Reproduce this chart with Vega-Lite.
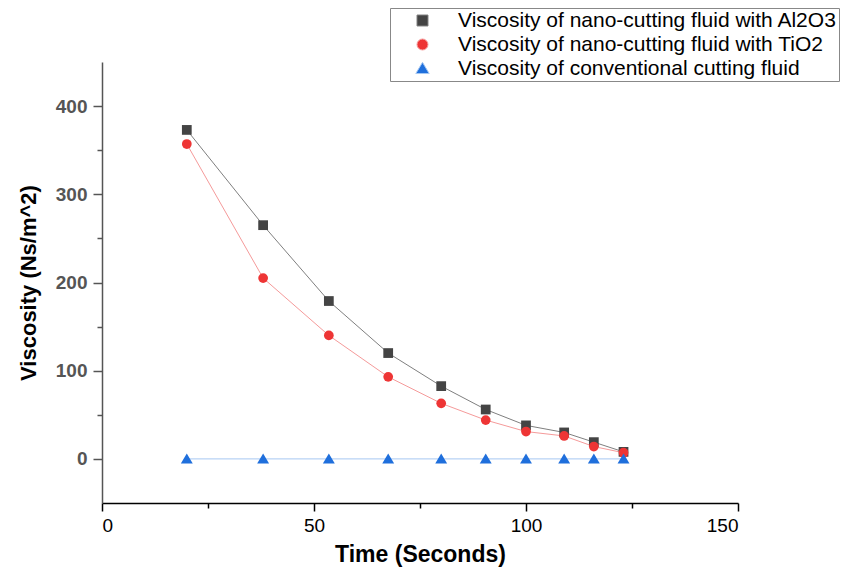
{
  "$schema": "https://vega.github.io/schema/vega-lite/v6.json",
  "width": 636,
  "height": 441,
  "autosize": {"type": "none"},
  "padding": {"left": 102, "top": 62, "right": 113, "bottom": 72},
  "background": "white",
  "config": {
    "view": {"stroke": null},
    "font": "Liberation Sans",
    "axis": {"grid": false}
  },
  "data": {
    "values": [
      {"series": "Viscosity of nano-cutting fluid with Al2O3", "time": 20, "viscosity": 373},
      {"series": "Viscosity of nano-cutting fluid with Al2O3", "time": 38, "viscosity": 265},
      {"series": "Viscosity of nano-cutting fluid with Al2O3", "time": 53.5, "viscosity": 179},
      {"series": "Viscosity of nano-cutting fluid with Al2O3", "time": 67.5, "viscosity": 120},
      {"series": "Viscosity of nano-cutting fluid with Al2O3", "time": 80, "viscosity": 82.5},
      {"series": "Viscosity of nano-cutting fluid with Al2O3", "time": 90.5, "viscosity": 56},
      {"series": "Viscosity of nano-cutting fluid with Al2O3", "time": 100, "viscosity": 38},
      {"series": "Viscosity of nano-cutting fluid with Al2O3", "time": 109, "viscosity": 30},
      {"series": "Viscosity of nano-cutting fluid with Al2O3", "time": 116, "viscosity": 19},
      {"series": "Viscosity of nano-cutting fluid with Al2O3", "time": 123, "viscosity": 8},
      {"series": "Viscosity of nano-cutting fluid with TiO2", "time": 20, "viscosity": 357},
      {"series": "Viscosity of nano-cutting fluid with TiO2", "time": 38, "viscosity": 205},
      {"series": "Viscosity of nano-cutting fluid with TiO2", "time": 53.5, "viscosity": 140},
      {"series": "Viscosity of nano-cutting fluid with TiO2", "time": 67.5, "viscosity": 93},
      {"series": "Viscosity of nano-cutting fluid with TiO2", "time": 80, "viscosity": 63},
      {"series": "Viscosity of nano-cutting fluid with TiO2", "time": 90.5, "viscosity": 44},
      {"series": "Viscosity of nano-cutting fluid with TiO2", "time": 100, "viscosity": 31},
      {"series": "Viscosity of nano-cutting fluid with TiO2", "time": 109, "viscosity": 26},
      {"series": "Viscosity of nano-cutting fluid with TiO2", "time": 116, "viscosity": 14},
      {"series": "Viscosity of nano-cutting fluid with TiO2", "time": 123, "viscosity": 7},
      {"series": "Viscosity of conventional cutting fluid", "time": 20, "viscosity": 0},
      {"series": "Viscosity of conventional cutting fluid", "time": 38, "viscosity": 0},
      {"series": "Viscosity of conventional cutting fluid", "time": 53.5, "viscosity": 0},
      {"series": "Viscosity of conventional cutting fluid", "time": 67.5, "viscosity": 0},
      {"series": "Viscosity of conventional cutting fluid", "time": 80, "viscosity": 0},
      {"series": "Viscosity of conventional cutting fluid", "time": 90.5, "viscosity": 0},
      {"series": "Viscosity of conventional cutting fluid", "time": 100, "viscosity": 0},
      {"series": "Viscosity of conventional cutting fluid", "time": 109, "viscosity": 0},
      {"series": "Viscosity of conventional cutting fluid", "time": 116, "viscosity": 0},
      {"series": "Viscosity of conventional cutting fluid", "time": 123, "viscosity": 0}
    ]
  },
  "encoding": {
    "x": {
      "field": "time", "type": "quantitative",
      "scale": {"domain": [0, 150], "nice": false, "zero": false},
      "axis": {
        "title": "Time (Seconds)",
        "values": [0, 25, 50, 75, 100, 125, 150],
        "labelExpr": "datum.value % 50 === 0 ? datum.label : ''",
        "labelFont": "Liberation Sans", "labelFontSize": 19, "labelColor": "#000",
        "labelPadding": 5,
        "titleFont": "Liberation Sans", "titleFontSize": 23, "titleFontWeight": "bold", "titleColor": "#000",
        "titlePadding": 8,
        "domainColor": "#000", "domainWidth": 1.5,
        "tickColor": "#000", "tickWidth": 1.5,
        "tickSize": {"condition": {"test": "datum.value % 50 === 0", "value": 8}, "value": 5}
      }
    },
    "y": {
      "field": "viscosity", "type": "quantitative",
      "scale": {"domain": [-50, 450], "nice": false, "zero": false},
      "axis": {
        "title": "Viscosity (Ns/m^2)",
        "values": [0, 50, 100, 150, 200, 250, 300, 350, 400],
        "labelExpr": "datum.value % 100 === 0 ? datum.label : ''",
        "labelFont": "Liberation Sans", "labelFontSize": 19, "labelFontWeight": "bold", "labelColor": "#555",
        "labelPadding": 6,
        "titleFont": "Liberation Sans", "titleFontSize": 22, "titleFontWeight": "bold", "titleColor": "#000",
        "titlePadding": 15,
        "domainColor": "#555", "domainWidth": 1.5,
        "tickColor": "#555", "tickWidth": 1.5,
        "tickSize": {"condition": {"test": "datum.value % 100 === 0", "value": 9}, "value": 5}
      }
    }
  },
  "layer": [
    {
      "mark": {"type": "line"},
      "encoding": {
        "detail": {"field": "series", "type": "nominal"},
        "stroke": {
          "field": "series", "type": "nominal",
          "scale": {
            "domain": ["Viscosity of nano-cutting fluid with Al2O3", "Viscosity of nano-cutting fluid with TiO2", "Viscosity of conventional cutting fluid"],
            "range": ["#7f7f7f", "#f59a9a", "#a6c8f2"]
          }
        },
        "strokeWidth": {
          "field": "series", "type": "nominal",
          "scale": {
            "domain": ["Viscosity of nano-cutting fluid with Al2O3", "Viscosity of nano-cutting fluid with TiO2", "Viscosity of conventional cutting fluid"],
            "range": [1, 1, 2]
          }
        }
      }
    },
    {
      "mark": {"type": "point", "filled": true, "opacity": 1, "size": 95},
      "encoding": {
        "color": {
          "field": "series", "type": "nominal",
          "scale": {
            "domain": ["Viscosity of nano-cutting fluid with Al2O3", "Viscosity of nano-cutting fluid with TiO2", "Viscosity of conventional cutting fluid"],
            "range": ["#444444", "#ee3535", "#1f6fdc"]
          },
          "legend": {
            "title": null,
            "orient": "none",
            "legendX": 288,
            "legendY": -54,
            "padding": 2,
            "strokeColor": "#888",
            "labelFont": "Liberation Sans",
            "labelFontSize": 21,
            "labelColor": "#000",
            "labelLimit": 600,
            "symbolSize": 120,
            "symbolOffset": 20,
            "labelOffset": 25,
            "rowPadding": 2
          }
        },
        "shape": {
          "field": "series", "type": "nominal",
          "scale": {
            "domain": ["Viscosity of nano-cutting fluid with Al2O3", "Viscosity of nano-cutting fluid with TiO2", "Viscosity of conventional cutting fluid"],
            "range": ["square", "circle", "M0,-1.12L1.22,0.92L-1.22,0.92Z"]
          }
        }
      }
    }
  ]
}
